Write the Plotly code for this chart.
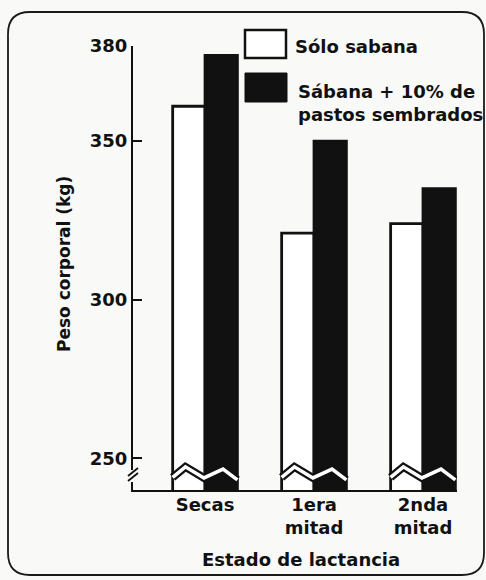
import plotly.graph_objects as go

# ---- data -------------------------------------------------------------
categories = ["Secas", "1era<br>mitad", "2nda<br>mitad"]
series_names = ["Sólo sabana", "Sábana + 10% de<br>pastos sembrados"]
solo_sabana = [361, 321, 324]          # kg
sabana_pastos = [377, 350, 335]        # kg
y_ticks = [250, 300, 350, 380]
y_title = "Peso corporal (kg)"
x_title = "Estado de lactancia"

# ---- geometry (pixels of the 486x580 page) -----------------------------
W, H = 486, 580
L, R, T, B = 133, 457, 46, 490          # plot area
Y_MIN, Y_MAX = 240, 380
X_MIN, X_MAX = -0.661, 2.312
BAR_W = 0.297
FONT = "DejaVu Sans"
INK = "#111111"
BG = "#f9f9f8"


def px(x):
    return (x - L) / (R - L)


def py(y):
    return (B - y) / (B - T)


fig = go.Figure()
xs = list(range(len(categories)))

fig.add_bar(x=xs, y=solo_sabana, name=series_names[0], width=BAR_W, offset=-BAR_W,
            marker=dict(color="white", line=dict(color=INK, width=2.8)), showlegend=False)
fig.add_bar(x=xs, y=sabana_pastos, name=series_names[1], width=BAR_W, offset=0,
            marker=dict(color=INK, line=dict(color=INK, width=2.8)), showlegend=False)

# zig-zag axis-break band drawn across each pair of bars
zz_dx = [-BAR_W, -0.18, -0.01, 0.165, BAR_W]
zz_y = [244.0, 247.3, 243.8, 246.6, 243.2]
for i in xs:
    zx = [i + d for d in zz_dx]
    fig.add_scatter(x=zx, y=zz_y, mode="lines", line=dict(color=INK, width=8),
                    hoverinfo="skip", showlegend=False)
    fig.add_scatter(x=zx, y=zz_y, mode="lines", line=dict(color="white", width=3.5),
                    hoverinfo="skip", showlegend=False)

shapes = []

# legend swatches
shapes.append(dict(type="rect", xref="paper", yref="paper",
                   x0=px(245), x1=px(286), y0=py(58), y1=py(30),
                   fillcolor="white", line=dict(color=INK, width=2.5)))
shapes.append(dict(type="rect", xref="paper", yref="paper",
                   x0=px(245), x1=px(287), y0=py(102), y1=py(73),
                   fillcolor=INK, line=dict(color=INK, width=1)))

# break marks on the y axis
shapes.append(dict(type="line", xref="paper", yref="paper",
                   x0=px(133), x1=px(133), y0=py(470), y1=py(482),
                   line=dict(color=BG, width=4)))
for off in (0, 5):
    shapes.append(dict(type="line", xref="paper", yref="paper",
                       x0=px(128), y0=py(476 + off), x1=px(138), y1=py(468 + off),
                       line=dict(color=INK, width=1.8)))

# rounded frame around the whole figure
fx0, fx1, fy0, fy1, rr = 8, 484, 12, 575, 22
frame = (
    f"M {px(fx0 + rr)},{py(fy0)} L {px(fx1 - rr)},{py(fy0)} "
    f"Q {px(fx1)},{py(fy0)} {px(fx1)},{py(fy0 + rr)} "
    f"L {px(fx1)},{py(fy1 - rr)} "
    f"Q {px(fx1)},{py(fy1)} {px(fx1 - rr)},{py(fy1)} "
    f"L {px(fx0 + rr)},{py(fy1)} "
    f"Q {px(fx0)},{py(fy1)} {px(fx0)},{py(fy1 - rr)} "
    f"L {px(fx0)},{py(fy0 + rr)} "
    f"Q {px(fx0)},{py(fy0)} {px(fx0 + rr)},{py(fy0)} Z"
)
shapes.append(dict(type="path", xref="paper", yref="paper", path=frame,
                   line=dict(color="#1a1a1a", width=1.8)))

bold = dict(family=FONT, size=18, color=INK, weight="bold")
annotations = [
    dict(text=series_names[0], x=px(293), y=py(47), xref="paper", yref="paper",
         xanchor="left", yanchor="middle", showarrow=False, font=bold),
    dict(text=series_names[1], x=px(296), y=py(103), xref="paper", yref="paper",
         xanchor="left", yanchor="middle", showarrow=False, font=bold, align="left"),
    dict(text=y_title, x=px(64), y=py(264), xref="paper", yref="paper",
         xanchor="center", yanchor="middle", textangle=-90, showarrow=False,
         font=dict(family=FONT, size=17, color=INK, weight="bold")),
    dict(text=x_title, x=px(301), y=py(559), xref="paper", yref="paper",
         xanchor="center", yanchor="middle", showarrow=False, font=bold),
]

fig.update_layout(
    width=W, height=H,
    margin=dict(l=L, r=W - R, t=T, b=H - B, pad=0),
    paper_bgcolor=BG, plot_bgcolor=BG,
    barmode="overlay",
    shapes=shapes, annotations=annotations,
    xaxis=dict(range=[X_MIN, X_MAX], tickvals=xs, ticktext=categories,
               showline=True, linecolor=INK, linewidth=2, ticks="",
               ticklabelstandoff=-3,
               showgrid=False, zeroline=False, tickfont=bold, fixedrange=True),
    yaxis=dict(range=[Y_MIN, Y_MAX], tickvals=y_ticks, showline=True, linecolor=INK,
               linewidth=2, ticks="inside", ticklen=9, tickwidth=2, tickcolor=INK,
               showgrid=False, zeroline=False, tickfont=bold, fixedrange=True),
)

fig.write_html("out.html")
